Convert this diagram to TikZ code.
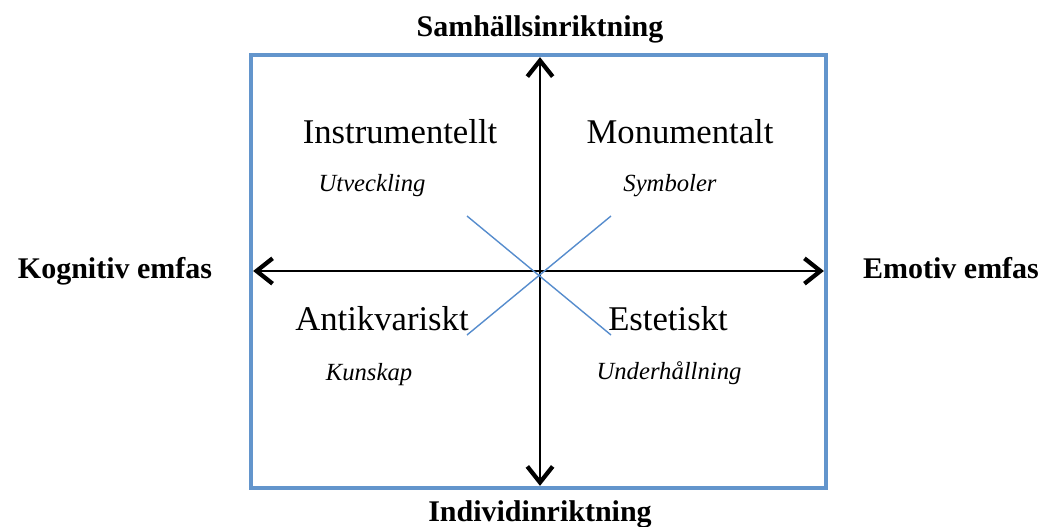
\documentclass[tikz,border=0pt]{standalone}
\usepackage{fontspec}
\setmainfont{Liberation Serif}
\usetikzlibrary{arrows.meta}
\definecolor{frameblue}{RGB}{99,149,204}
\definecolor{crossblue}{RGB}{86,140,205}
\begin{document}
\begin{tikzpicture}[
	x=0.75pt, y=-0.75pt,
	frame/.style={ draw=frameblue, line width=3pt },
	axis/.style={ line width=1.6pt, shorten <=1.6pt, shorten >=1.6pt, {Straight Barb[length=12pt,width=19pt,line width=3.2pt]}-{Straight Barb[length=12pt,width=19pt,line width=3.2pt]} },
	cross/.style={ crossblue, line width=1.05pt },
	pole/.style={ anchor=base, inner sep=0pt, font=\bfseries\fontsize{22.5}{26}\selectfont },
	quadrant/.style={ anchor=base, inner sep=0pt, font=\fontsize{26}{30}\selectfont },
	motive/.style={ anchor=base, inner sep=0pt, font=\itshape\fontsize{18.5}{22}\selectfont }
]
\useasboundingbox (0,0) rectangle (1040,526);

% frame
\coordinate (fnw) at (251,55);
\coordinate (fse) at (826,488);
\draw[frame] (fnw) rectangle (fse);

% axes
\coordinate (atop) at (540,55);
\coordinate (abot) at (540,488);
\coordinate (aleft) at (251,271);
\coordinate (aright) at (826,271);
\draw[axis] (abot) to (atop);
\draw[axis] (aleft) to (aright);

% cross
\coordinate (cnw) at (467,216);
\coordinate (cse) at (611,335);
\coordinate (cne) at (611,216);
\coordinate (csw) at (467,335);
\draw[cross] (cnw) to (cse);
\draw[cross] (cne) to (csw);

% poles
\node at (540,36) (nsam) [pole] {Samhällsinriktning};
\node at (540,521) (nind) [pole] {Individinriktning};
\node at (115,278) (nkog) [pole] {Kognitiv emfas};
\node at (951,278) (nemo) [pole] {Emotiv emfas};

% quadrants
\node at (400,143) (qins) [quadrant] {Instrumentellt};
\node at (372,191) (mins) [motive] {Utveckling};
\node at (680,143) (qmon) [quadrant] {Monumentalt};
\node at (670,191) (mmon) [motive] {Symboler};
\node at (382,330) (qant) [quadrant] {Antikvariskt};
\node at (369,380) (mant) [motive] {Kunskap};
\node at (668,330) (qest) [quadrant] {Estetiskt};
\node at (669,379) (mest) [motive] {Underhållning};

\end{tikzpicture}
\end{document}
